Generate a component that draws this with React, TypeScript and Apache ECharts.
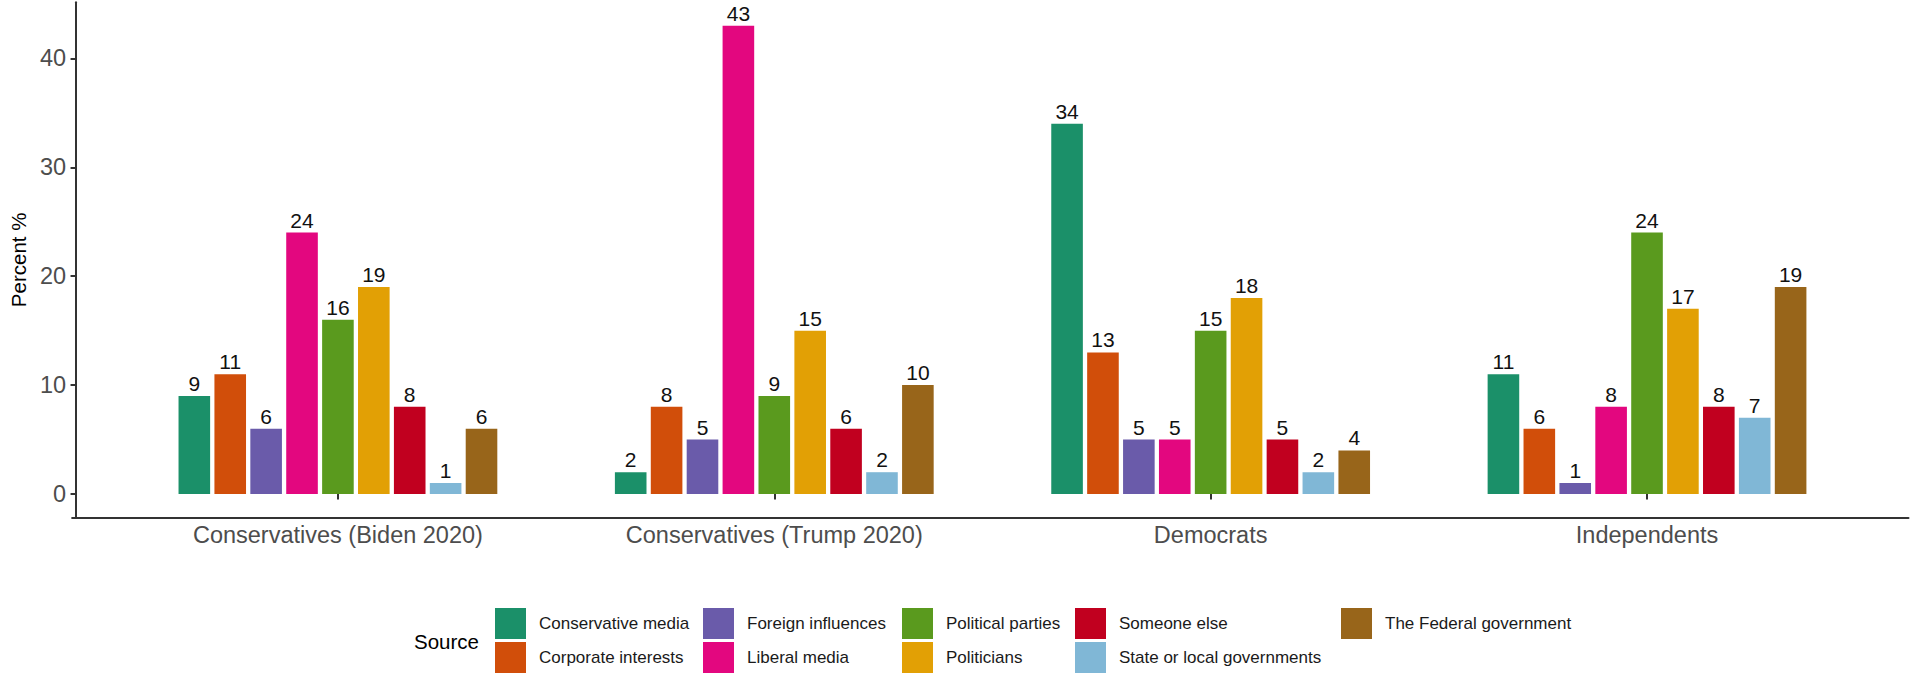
import React, { useEffect, useRef } from "react";
import * as echarts from "echarts";

const categories = [
  "Conservatives (Biden 2020)",
  "Conservatives (Trump 2020)",
  "Democrats",
  "Independents",
];

const sources = [
  "Conservative media",
  "Corporate interests",
  "Foreign influences",
  "Liberal media",
  "Political parties",
  "Politicians",
  "Someone else",
  "State or local governments",
  "The Federal government",
];

const conservativeMedia = [9, 2, 34, 11];
const corporateInterests = [11, 8, 13, 6];
const foreignInfluences = [6, 5, 5, 1];
const liberalMedia = [24, 43, 5, 8];
const politicalParties = [16, 9, 15, 24];
const politicians = [19, 15, 18, 17];
const someoneElse = [8, 6, 5, 8];
const stateOrLocal = [1, 2, 2, 7];
const federalGovernment = [6, 10, 4, 19];

const seriesValues = [
  conservativeMedia,
  corporateInterests,
  foreignInfluences,
  liberalMedia,
  politicalParties,
  politicians,
  someoneElse,
  stateOrLocal,
  federalGovernment,
];

const colors = [
  "#1B9069",
  "#D14E0A",
  "#6A5BAA",
  "#E3077F",
  "#5A9A1E",
  "#E2A005",
  "#C1001F",
  "#80B7D6",
  "#98651A",
];

const yTicks = [0, 10, 20, 30, 40];

const legendColumns = [
  ["Conservative media", "Corporate interests"],
  ["Foreign influences", "Liberal media"],
  ["Political parties", "Politicians"],
  ["Someone else", "State or local governments"],
  ["The Federal government"],
];
const legendLefts = [495, 703, 902, 1075, 1341];

const FONT = "'Liberation Sans', Arial, Helvetica, sans-serif";

export default function App() {
  const ref = useRef<HTMLDivElement>(null);

  useEffect(() => {
    if (!ref.current) return;
    const chart = echarts.init(ref.current, undefined, { renderer: "svg" });

    const gridTop = 2.3;
    const gridBottom = 155.6;

    const option: any = {
      animation: false,
      backgroundColor: "#ffffff",
      textStyle: { fontFamily: FONT },
      grid: [
        { left: 115.8, right: 45.8, top: gridTop, bottom: gridBottom, containLabel: false },
        { left: 72.1, right: 2.5, top: gridTop, bottom: gridBottom, containLabel: false },
      ],
      xAxis: [
        {
          type: "category",
          gridIndex: 0,
          data: categories,
          axisLine: { show: false },
          axisTick: {
            show: true,
            alignWithLabel: true,
            length: 5.5,
            lineStyle: { color: "#333333", width: 2 },
          },
          axisLabel: {
            color: "#4D4D4D",
            fontSize: 23.5,
            fontFamily: FONT,
            margin: 6,
            interval: 0,
          },
          splitLine: { show: false },
        },
        {
          type: "value",
          gridIndex: 1,
          min: 0,
          max: 1,
          axisLine: { show: true, onZero: false, lineStyle: { color: "#333333", width: 2 } },
          axisTick: { show: false },
          axisLabel: { show: false },
          splitLine: { show: false },
        },
      ],
      yAxis: [
        {
          type: "value",
          gridIndex: 0,
          min: -2.15,
          max: 45.15,
          offset: 43.7,
          name: "Percent %",
          nameLocation: "middle",
          nameRotate: 90,
          nameGap: 42,
          nameTextStyle: { color: "#000000", fontSize: 20.5, fontFamily: FONT },
          axisLine: { show: true, lineStyle: { color: "#333333", width: 2 } },
          axisTick: {
            show: true,
            length: 5.5,
            customValues: yTicks,
            lineStyle: { color: "#333333", width: 2 },
          },
          axisLabel: {
            color: "#4D4D4D",
            fontSize: 23.5,
            fontFamily: FONT,
            margin: 10,
            customValues: yTicks,
          },
          splitLine: { show: false },
        },
        {
          type: "value",
          gridIndex: 1,
          min: 0,
          max: 1,
          show: false,
        },
      ],
      legend: legendColumns.map((names, i) => ({
        orient: "vertical",
        left: legendLefts[i],
        top: 608,
        height: 66,
        padding: 0,
        itemWidth: 31,
        itemHeight: 31,
        itemGap: 3,
        icon: "rect",
        selectedMode: false,
        data: names,
        textStyle: {
          fontSize: 17,
          color: "#1a1a1a",
          fontFamily: FONT,
          padding: [0, 0, 0, 8],
        },
      })),
      graphic: [
        {
          type: "text",
          x: 414,
          y: 641,
          style: {
            text: "Source",
            fontSize: 20.5,
            fontFamily: FONT,
            fill: "#000000",
            verticalAlign: "middle",
            align: "left",
          },
        },
      ],
      series: sources.map((name, i) => ({
        name,
        type: "bar",
        xAxisIndex: 0,
        yAxisIndex: 0,
        data: seriesValues[i],
        barWidth: 31.6,
        barGap: "13.6%",
        itemStyle: { color: colors[i] },
        label: {
          show: true,
          position: "top",
          distance: 2,
          fontSize: 21,
          fontFamily: FONT,
          color: "#111111",
        },
      })),
    };

    chart.setOption(option);
    return () => {
      chart.dispose();
    };
  }, []);

  return (
    <div
      ref={ref}
      style={{ position: "absolute", left: 0, top: 0, width: 1911, height: 673, background: "#fff" }}
    />
  );
}
